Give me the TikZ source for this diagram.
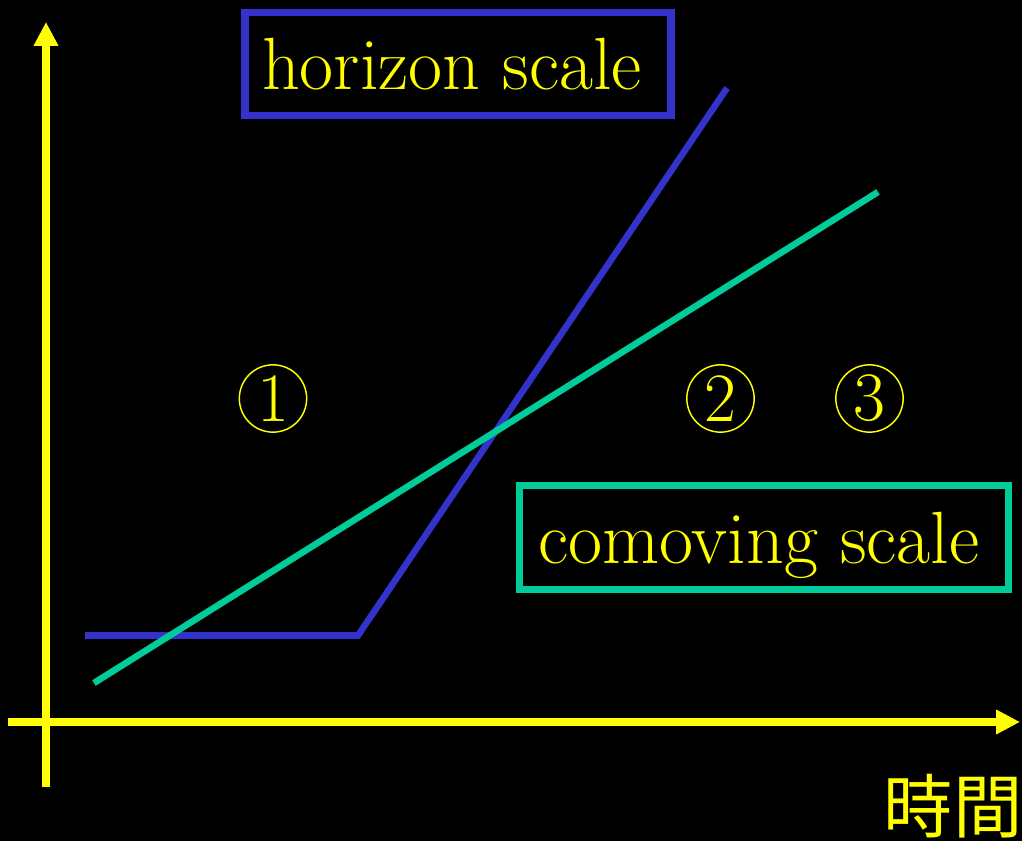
\documentclass[tikz,border=0pt]{standalone}
\usepackage{fontspec}
\newfontfamily\cjk{Noto Sans CJK TC}
\usetikzlibrary{arrows.meta}
\definecolor{hblue}{RGB}{51,51,204}
\definecolor{cgreen}{RGB}{0,204,153}
\definecolor{ayellow}{RGB}{255,255,0}
\begin{document}
\begin{tikzpicture}[x=0.75pt,y=-0.75pt]
\tikzset{
  axis/.style={draw=ayellow, line width=6pt, -{Triangle[length=18pt,width=17.5pt]}},
  curve/.style={line width=4.9pt},
  labelbox/.style={draw, line width=5.4pt, text=ayellow, inner sep=0pt, text depth=0pt, font=\fontsize{55.5}{66}\selectfont},
  num/.style={circle, draw=ayellow, line width=1.1pt, text=ayellow, minimum size=50.5pt, inner sep=0pt, font=\fontsize{52}{60}\selectfont},
  cjklabel/.style={text=ayellow, inner sep=0pt, font=\cjk\fontsize{52}{60}\selectfont}
}
\fill[black] (0,0) rectangle (1022,841);
\useasboundingbox (0,0) rectangle (1022,841);
% axes
\coordinate (yb) at (46,787);
\coordinate (yt) at (46,22);
\coordinate (xl) at (8,722);
\coordinate (xr) at (1020,722);
\draw[axis] (yb) -- (yt);
\draw[axis] (xl) -- (xr);
% curves
\coordinate (b0) at (85,635.5);
\coordinate (b1) at (358,635.5);
\coordinate (b2) at (727,88);
\coordinate (g0) at (94,683);
\coordinate (g1) at (878,192);
\draw[curve, hblue] (b0) -- (b1) -- (b2);
\draw[curve, cgreen] (g0) -- (g1);
% labels
\node[labelbox, draw=hblue, minimum width=319.5pt, minimum height=77.6pt] (hbox) at (458,64) {horizon scale\kern9pt};
\node[labelbox, draw=cgreen, minimum width=366.75pt, minimum height=78pt] (cbox) at (764,537.5) {comoving scale\kern7.5pt};
\node[num] (n1) at (273,398.5) {1};
\node[num] (n2) at (720.5,398.5) {2};
\node[num] (n3) at (869.5,398.5) {3};
\node[cjklabel] (time) at (953,806) {時間};
\end{tikzpicture}
\end{document}
